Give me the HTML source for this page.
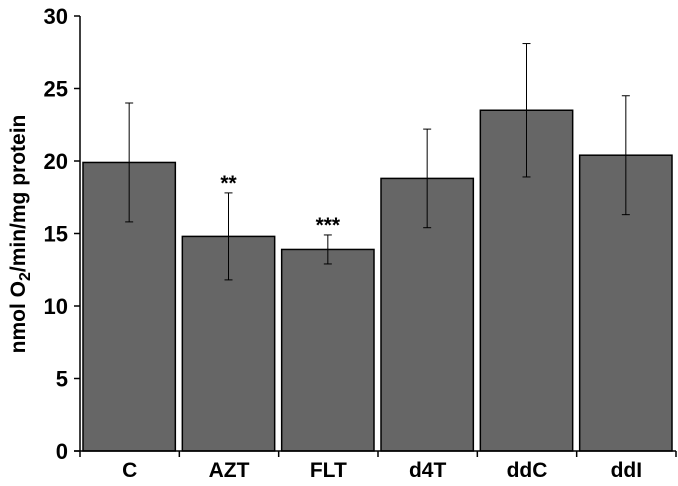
<!DOCTYPE html>
<html><head><style>
body{margin:0;background:#fff;}
svg{display:block;font-family:"Liberation Sans",sans-serif;font-weight:bold;}
</style></head><body>
<svg id="c" width="678" height="486"></svg>
<script>
const categories=["C","AZT","FLT","d4T","ddC","ddI"];
const values=[19.9,14.8,13.9,18.8,23.5,20.4];
const errors=[4.1,3.0,1.0,3.4,4.6,4.1];
const marks=["","**","***","","",""];
const ticks=[0,5,10,15,20,25,30];
const NS="http://www.w3.org/2000/svg";
const svg=document.getElementById('c');
const x0=80,x1=676,y0=451,yTop=16;
const cw=(x1-x0)/categories.length;
function y(v){return y0-(v/30)*(y0-yTop);}
function el(t,a,p){const e=document.createElementNS(NS,t);for(const k in a)e.setAttribute(k,a[k]);(p||svg).appendChild(e);return e;}
categories.forEach((c,i)=>{
  const bx=x0+i*cw+3,bw=cw-7;
  const r=el('rect',{x:bx,y:y(values[i]),width:bw,height:y0-y(values[i]),fill:'#666',stroke:'#000','stroke-width':1.5});
  
  
  const cx=bx+bw/2;
  const g=el('g',{stroke:'#000','stroke-width':1});
  
  
  el('line',{x1:cx,x2:cx,y1:y(values[i]+errors[i]),y2:y(values[i]-errors[i])},g);
  el('line',{x1:cx-4,x2:cx+4,y1:y(values[i]+errors[i]),y2:y(values[i]+errors[i])},g);
  el('line',{x1:cx-4,x2:cx+4,y1:y(values[i]-errors[i]),y2:y(values[i]-errors[i])},g);
  if(marks[i]){const t=el('text',{x:cx,y:y(values[i]+errors[i])-3,'text-anchor':'middle','font-size':21});t.textContent=marks[i];
    
    }
  const l=el('text',{x:x0+(i+0.5)*cw,y:477,'text-anchor':'middle','font-size':21});l.textContent=c;
  
  
  el('line',{x1:x0+(i+1)*cw,x2:x0+(i+1)*cw,y1:y0,y2:y0+6,stroke:'#000','stroke-width':1.5});
});
el('line',{x1:x0,x2:x0,y1:yTop,y2:y0+6,stroke:'#000','stroke-width':1.5});
el('line',{x1:x0-6,x2:x1,y1:y0,y2:y0,stroke:'#000','stroke-width':1.5});
ticks.forEach(v=>{
  el('line',{x1:x0-6,x2:x0,y1:y(v),y2:y(v),stroke:'#000','stroke-width':1.5});
  const t=el('text',{x:x0-12,y:y(v)+8,'text-anchor':'end','font-size':22});t.textContent=v;
  
  
});
const yt=el('text',{transform:'translate(25,234) rotate(-90)','text-anchor':'middle','font-size':21});
yt.innerHTML='nmol O<tspan font-size="16" dy="5">2</tspan><tspan dy="-5">/min/mg protein</tspan>';


</script>
</body></html>
